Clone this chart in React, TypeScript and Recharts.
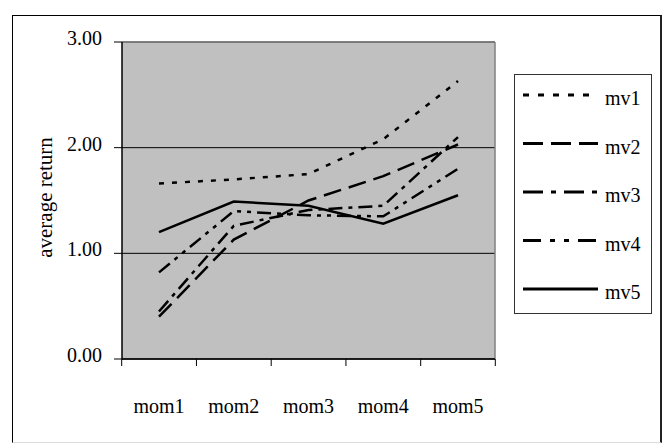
import React from 'react';
import { LineChart, Line, XAxis, YAxis, CartesianGrid, ReferenceLine, Legend } from 'recharts';

const categories = ['mom1', 'mom2', 'mom3', 'mom4', 'mom5'];
const mv1 = [1.66, 1.70, 1.75, 2.08, 2.63];
const mv2 = [0.40, 1.13, 1.50, 1.73, 2.03];
const mv3 = [0.45, 1.26, 1.41, 1.45, 2.10];
const mv4 = [0.82, 1.40, 1.36, 1.35, 1.80];
const mv5 = [1.20, 1.49, 1.45, 1.28, 1.55];
const yTicks = [0, 1, 2, 3];

const FONT = 'Liberation Serif';

// dash pattern for each series (plot / legend)
const series = [
  { key: 'mv1', dash: '5 8', legendDash: '6 9' },
  { key: 'mv2', dash: '18 8', legendDash: '20 8' },
  { key: 'mv3', dash: '14 6 4 6', legendDash: '20 8 5 8' },
  { key: 'mv4', dash: '14 6 4 6 4 6', legendDash: '18 9 5 9 5 9' },
  { key: 'mv5', dash: undefined, legendDash: undefined },
];

const data = categories.map((c, i) => ({
  name: c,
  mv1: mv1[i],
  mv2: mv2[i],
  mv3: mv3[i],
  mv4: mv4[i],
  mv5: mv5[i],
}));

const YTick = (props: any) => {
  const { x, y, payload } = props;
  return (
    <text x={x} y={y + 3} textAnchor="end" fontFamily={FONT} fontSize={20} fill="#000">
      {Number(payload.value).toFixed(2)}
    </text>
  );
};

// category label in the middle, tick marks on the category boundaries
const XTick = (props: any) => {
  const { x, y, payload, index, visibleTicksCount } = props;
  const count = visibleTicksCount || categories.length;
  const step = (Number(props.width) || 373) / count;
  const left = x - step / 2;
  const right = x + step / 2;
  return (
    <g>
      <line x1={left} x2={left} y1={y} y2={y + 7} stroke="#000" strokeWidth={1} />
      {index === count - 1 && <line x1={right} x2={right} y1={y} y2={y + 7} stroke="#000" strokeWidth={1} />}
      <text x={x} y={y + 54} textAnchor="middle" fontFamily={FONT} fontSize={20} fill="#000">
        {payload.value}
      </text>
    </g>
  );
};

const YLabel = (props: any) => {
  const vb = props.viewBox || { x: 12, y: 42, width: 110, height: 318 };
  const cx = vb.x + 40;
  const cy = vb.y + vb.height / 2 - 3;
  return (
    <text
      x={0}
      y={0}
      transform={`translate(${cx},${cy}) rotate(-90)`}
      textAnchor="middle"
      fontFamily={FONT}
      fontSize={21}
      fill="#000"
    >
      average return
    </text>
  );
};

const LegendBox = () => (
  <div
    style={{
      width: 138,
      height: 240,
      boxSizing: 'border-box',
      border: '1px solid #333',
      background: '#fff',
    }}
  >
    <svg width={136} height={238} style={{ display: 'block' }}>
      {series.map((s, i) => {
        const y = 20 + i * 48.5;
        return (
          <g key={s.key}>
            <line x1={8} x2={83} y1={y} y2={y} stroke="#000" strokeWidth={3} strokeDasharray={s.legendDash} />
            <text x={90} y={y + 10} fontFamily={FONT} fontSize={20} fill="#000">
              {s.key}
            </text>
          </g>
        );
      })}
    </svg>
  </div>
);

export default function App() {
  return (
    <div
      style={{
        position: 'absolute',
        left: 0,
        top: 0,
        width: 668,
        height: 444,
        background: '#fff',
        fontFamily: FONT,
      }}
    >
      <div
        style={{
          position: 'absolute',
          left: 12,
          top: 15,
          width: 650,
          height: 428,
          boxSizing: 'border-box',
          borderLeft: '1px solid #000',
          borderTop: '1px solid #000',
          borderRight: '2px solid #222',
          borderBottom: '1px solid #ddd',
        }}
      />
      <div style={{ position: 'absolute', left: 0, top: 0 }}>
        <LineChart width={668} height={444} data={data} margin={{ top: 42, right: 173, bottom: 84, left: 12 }}>
          <CartesianGrid vertical={false} fill="#C0C0C0" stroke="#000" strokeWidth={1} />
          <CartesianGrid
            horizontal={false}
            stroke="#808080"
            strokeWidth={1.5}
            verticalCoordinatesGenerator={({ offset }: any) => [offset.left + offset.width]}
          />
          <XAxis
            dataKey="name"
            height={1}
            padding={{ left: 37, right: 37 }}
            axisLine={{ stroke: '#000', strokeWidth: 1.5 }}
            tickLine={false}
            tickSize={0}
            tickMargin={0}
            tick={<XTick />}
            interval={0}
          />
          <YAxis
            width={110}
            domain={[0, 3]}
            ticks={yTicks}
            allowDataOverflow
            axisLine={{ stroke: '#000', strokeWidth: 1.5 }}
            tickLine={{ stroke: '#000' }}
            tickSize={8}
            tickMargin={12}
            tick={<YTick />}
            label={{ content: <YLabel /> }}
          />
          <ReferenceLine y={3} stroke="#808080" strokeWidth={1.5} />
          {series.map((s) => (
            <Line
              key={s.key}
              type="linear"
              dataKey={s.key}
              stroke="#000"
              strokeWidth={2.5}
              strokeDasharray={s.dash}
              dot={false}
              activeDot={false}
              isAnimationActive={false}
            />
          ))}
          <Legend
            layout="horizontal"
            align="center"
            verticalAlign="middle"
            wrapperStyle={{ position: 'absolute', left: 514, top: 74, width: 138, height: 240 }}
            content={() => <LegendBox />}
          />
        </LineChart>
      </div>
    </div>
  );
}
